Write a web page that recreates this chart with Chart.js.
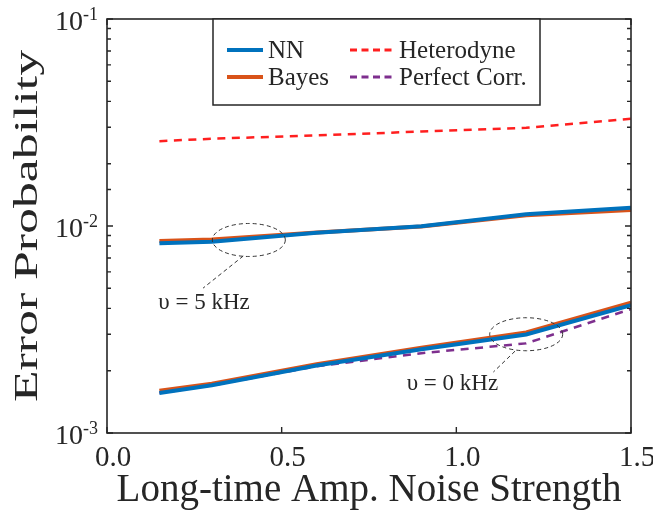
<!DOCTYPE html>
<html>
<head>
<meta charset="utf-8">
<script src="https://cdn.jsdelivr.net/npm/chart.js@4.4.1/dist/chart.umd.min.js"></script>
<style>
  body { margin: 0; background: #ffffff; }
  canvas { display: block; }
</style>
</head>
<body>
<canvas id="errChart" width="653" height="511"></canvas>
<script>
// datos
const noiseStrength = [0.15, 0.3, 0.6, 0.9, 1.2, 1.5];

// upsilon = 5 kHz
const nn5kHz    = [0.00825, 0.00840, 0.00927, 0.00997, 0.01139, 0.01226];
const bayes5kHz = [0.00846, 0.00861, 0.00930, 0.00995, 0.01128, 0.01195];
const heterodyne = [0.0257, 0.0264, 0.0274, 0.0286, 0.0298, 0.0330];

// upsilon = 0 kHz
const nn0kHz      = [0.00156, 0.00170, 0.00212, 0.00254, 0.00299, 0.00415];
const bayes0kHz   = [0.00160, 0.00173, 0.00215, 0.00258, 0.00306, 0.00426];
const perfectCorr = [0.00156, 0.00170, 0.00210, 0.00243, 0.00271, 0.00397];

const xTicks = [0, 0.5, 1.0, 1.5];
const yDecades = [1e-3, 1e-2, 1e-1];
const yTickLabels = ['-3', '-2', '-1'];
const legendLabels = ['NN', 'Bayes', 'Heterodyne', 'Perfect Corr.'];

// anotaciones (en unidades de datos)
const ellipseCenters = [[0.406, 0.00856], [1.2, 0.00300]];
const leaderLines = [[[0.39, 0.00716], [0.275, 0.00501]], [[1.168, 0.002485], [1.106, 0.00197]]];
const noteTexts = ['\u03C5 = 5 kHz', '\u03C5 = 0 kHz'];
const notePositions = [[0.147, 0.00397], [0.858, 0.00161]];

const SERIF = "'Liberation Serif', 'Times New Roman', serif";
const INK = '#262626';

const COLORS = {
    nn: '#0072BD',
    bayes: '#D95319',
    het: '#FF1F1F',
    perf: '#7E2F8E'
};

function pts(arr) {
    return noiseStrength.map((x, i) => ({ x: x, y: arr[i] }));
}

function solid(label, arr, color, width, order) {
    return { label, data: pts(arr), borderColor: color, borderWidth: width,
             pointRadius: 0, tension: 0, fill: false, order };
}

function dashed(label, arr, color, order) {
    return { label, data: pts(arr), borderColor: color, borderWidth: 2.5,
             borderDash: [8, 6.5], pointRadius: 0, tension: 0, fill: false, order };
}

const datasets = [
    solid('NN', nn5kHz, COLORS.nn, 4, 0),
    solid('Bayes', bayes5kHz, COLORS.bayes, 4, 1),
    dashed('Heterodyne', heterodyne, COLORS.het, 3),
    solid('NN', nn0kHz, COLORS.nn, 4, 0),
    solid('Bayes', bayes0kHz, COLORS.bayes, 4, 1),
    dashed('Perfect Corr.', perfectCorr, COLORS.perf, 2)
];

// Ejes, ticks internos, leyenda y anotaciones
const decorPlugin = {
    id: 'decor',
    afterDraw(chart) {
        const ctx = chart.ctx;
        const area = chart.chartArea;
        const xs = chart.scales.x;
        const ys = chart.scales.y;
        ctx.save();

        // marco
        ctx.strokeStyle = INK;
        ctx.lineWidth = 1.6;
        ctx.strokeRect(area.left, area.top, area.right - area.left, area.bottom - area.top);

        // ticks del eje y (log), hacia dentro
        ctx.lineWidth = 1.4;
        ys.ticks.forEach(t => {
            const v = t.value;
            if (v < 1e-3 * 0.999 || v > 1e-1 * 1.001) return;
            const y = ys.getPixelForValue(v);
            const m = Math.log10(v);
            const len = Math.abs(m - Math.round(m)) < 1e-6 ? 6 : 4;
            ctx.beginPath();
            ctx.moveTo(area.left, y); ctx.lineTo(area.left + len, y);
            ctx.moveTo(area.right, y); ctx.lineTo(area.right - len, y);
            ctx.stroke();
        });

        // ticks del eje x
        xTicks.forEach(v => {
            const x = xs.getPixelForValue(v);
            ctx.beginPath();
            ctx.moveTo(x, area.bottom); ctx.lineTo(x, area.bottom - 6);
            ctx.moveTo(x, area.top); ctx.lineTo(x, area.top + 6);
            ctx.stroke();
        });

        // etiquetas 10^n
        ctx.fillStyle = INK;
        ctx.textBaseline = 'middle';
        yDecades.forEach((v, i) => {
            const y = ys.getPixelForValue(v);
            ctx.textAlign = 'right';
            ctx.font = '28px ' + SERIF;
            ctx.fillText('10', 83, y + 4);
            ctx.textAlign = 'left';
            ctx.font = '18px ' + SERIF;
            ctx.fillText(yTickLabels[i], 83, y - 4);
        });

        // titulo eje y (estirado como en la figura)
        ctx.save();
        ctx.font = '33px ' + SERIF;
        const yTitle = 'Error Probability';
        const w = ctx.measureText(yTitle).width;
        ctx.translate(37, (area.top + area.bottom) / 2);
        ctx.rotate(-Math.PI / 2);
        ctx.scale(352 / w, 1);
        ctx.textAlign = 'center';
        ctx.textBaseline = 'alphabetic';
        ctx.fillText(yTitle, 0, 0);
        ctx.restore();

        // elipses y lineas guia
        ctx.strokeStyle = '#333333';
        ctx.lineWidth = 1;
        ctx.setLineDash([4, 3]);
        ellipseCenters.forEach((c, i) => {
            const cx = xs.getPixelForValue(c[0]);
            const cy = ys.getPixelForValue(c[1]);
            ctx.beginPath();
            ctx.ellipse(cx, cy, 36.5, 16.5, 0, 0, Math.PI * 2);
            ctx.stroke();
            const l = leaderLines[i];
            ctx.beginPath();
            ctx.moveTo(xs.getPixelForValue(l[0][0]), ys.getPixelForValue(l[0][1]));
            ctx.lineTo(xs.getPixelForValue(l[1][0]), ys.getPixelForValue(l[1][1]));
            ctx.stroke();
        });
        ctx.setLineDash([]);

        ctx.fillStyle = INK;
        ctx.font = '23px ' + SERIF;
        ctx.textAlign = 'left';
        ctx.textBaseline = 'alphabetic';
        noteTexts.forEach((txt, i) => {
            const p = notePositions[i];
            ctx.fillText(txt, xs.getPixelForValue(p[0]), ys.getPixelForValue(p[1]));
        });

        // leyenda
        const box = { x: 213, y: 19, w: 327, h: 86 };
        ctx.fillStyle = '#ffffff';
        ctx.fillRect(box.x, box.y, box.w, box.h);
        ctx.strokeStyle = INK;
        ctx.lineWidth = 1.5;
        ctx.strokeRect(box.x, box.y, box.w, box.h);

        const slots = [
            { x0: 227, x1: 263, tx: 268, y: 50 },
            { x0: 227, x1: 263, tx: 268, y: 77 },
            { x0: 350, x1: 392, tx: 399, y: 50 },
            { x0: 350, x1: 392, tx: 399, y: 77 }
        ];
        legendLabels.forEach((lab, i) => {
            const ds = chart.data.datasets.find(d => d.label === lab);
            const s = slots[i];
            ctx.strokeStyle = ds.borderColor;
            if (ds.borderDash) {
                ctx.lineWidth = 3;
                ctx.setLineDash([7, 4.5]);
            } else {
                ctx.lineWidth = 4;
                ctx.setLineDash([]);
            }
            ctx.beginPath();
            ctx.moveTo(s.x0, s.y); ctx.lineTo(s.x1, s.y);
            ctx.stroke();
            ctx.setLineDash([]);
            ctx.fillStyle = INK;
            ctx.font = '25px ' + SERIF;
            ctx.fillText(lab, s.tx, s.y + 8);
        });

        ctx.restore();
    }
};

new Chart(document.getElementById('errChart'), {
    type: 'line',
    data: { datasets },
    options: {
        responsive: false,
        animation: false,
        devicePixelRatio: 1,
        layout: { padding: { top: 19, right: 22, left: 0, bottom: 0 } },
        plugins: { legend: { display: false }, tooltip: { enabled: false } },
        scales: {
            x: {
                type: 'linear',
                min: 0,
                max: 1.5,
                afterFit: s => { s.height = 78; },
                afterBuildTicks: s => { s.ticks = xTicks.map(v => ({ value: v })); },
                grid: { display: false },
                border: { display: false },
                ticks: {
                    font: { family: SERIF, size: 29 },
                    color: INK,
                    padding: 0,
                    labelOffset: 6,
                    maxRotation: 0,
                    autoSkip: false,
                    callback: v => Number(v).toFixed(1)
                },
                title: {
                    display: true,
                    text: 'Long-time Amp. Noise Strength',
                    font: { family: SERIF, size: 39, lineHeight: 1 },
                    color: INK,
                    padding: { top: 0, bottom: 1 }
                }
            },
            y: {
                type: 'logarithmic',
                min: 1e-3,
                max: 1e-1,
                afterFit: s => { s.width = 107; },
                grid: { display: false },
                border: { display: false },
                ticks: { display: false }
            }
        }
    },
    plugins: [decorPlugin]
});
</script>
</body>
</html>
